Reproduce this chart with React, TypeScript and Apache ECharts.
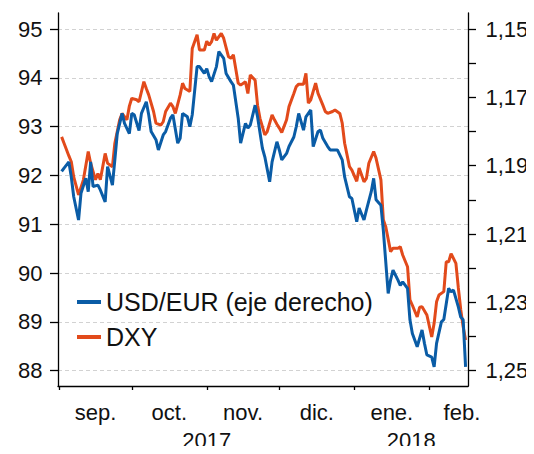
import React, { useEffect, useRef } from "react";
import * as echarts from "echarts";

// USD/EUR (right axis, inverted)
const eurDates = [
  "2017-09-02","2017-09-03","2017-09-05","2017-09-06","2017-09-07","2017-09-09","2017-09-10","2017-09-12","2017-09-13","2017-09-14",
  "2017-09-15","2017-09-17","2017-09-18","2017-09-20","2017-09-21","2017-09-23","2017-09-24","2017-09-25","2017-09-27","2017-09-28",
  "2017-09-30","2017-10-01","2017-10-02","2017-10-04","2017-10-05","2017-10-07","2017-10-08","2017-10-09","2017-10-11","2017-10-12",
  "2017-10-14","2017-10-15","2017-10-17","2017-10-18","2017-10-20","2017-10-21","2017-10-22","2017-10-24","2017-10-25","2017-10-26",
  "2017-10-28","2017-10-29","2017-10-31","2017-11-01","2017-11-02","2017-11-03","2017-11-05","2017-11-06","2017-11-08","2017-11-09",
  "2017-11-11","2017-11-12","2017-11-14","2017-11-15","2017-11-17","2017-11-18","2017-11-19","2017-11-21","2017-11-22","2017-11-24",
  "2017-11-25","2017-11-27","2017-11-28","2017-11-30","2017-12-01","2017-12-02","2017-12-04","2017-12-05","2017-12-07","2017-12-08",
  "2017-12-09","2017-12-11","2017-12-12","2017-12-14","2017-12-15","2017-12-17","2017-12-18","2017-12-19","2017-12-21","2017-12-22",
  "2017-12-23","2017-12-25","2017-12-27","2017-12-28","2017-12-30","2017-12-31","2018-01-02","2018-01-03","2018-01-05","2018-01-06",
  "2018-01-08","2018-01-09","2018-01-10","2018-01-12","2018-01-13","2018-01-15","2018-01-16","2018-01-17","2018-01-19","2018-01-20",
  "2018-01-21","2018-01-23","2018-01-24","2018-01-25","2018-01-27","2018-01-29","2018-01-30","2018-01-31","2018-02-02","2018-02-03",
  "2018-02-04","2018-02-06","2018-02-07","2018-02-09","2018-02-10","2018-02-11","2018-02-13","2018-02-14","2018-02-15","2018-02-16",
];
const eurValues = [
  1.1917,1.1907,1.1889,1.1933,1.1991,1.2059,1.1981,1.1937,1.1976,1.1889,
  1.1961,1.1957,1.1971,1.2006,1.1903,1.1957,1.1883,1.1806,1.1747,1.1776,
  1.1806,1.1747,1.1751,1.1797,1.1747,1.1713,1.1751,1.1800,1.1824,1.1854,
  1.1810,1.1800,1.1761,1.1751,1.1834,1.1820,1.1747,1.1757,1.1786,1.1751,
  1.1610,1.1610,1.1630,1.1616,1.1640,1.1654,1.1610,1.1566,1.1586,1.1630,
  1.1654,1.1664,1.1761,1.1834,1.1776,1.1790,1.1781,1.1723,1.1757,1.1849,
  1.1874,1.1947,1.1889,1.1830,1.1854,1.1883,1.1864,1.1844,1.1816,1.1786,
  1.1747,1.1796,1.1757,1.1737,1.1844,1.1800,1.1796,1.1820,1.1844,1.1854,
  1.1854,1.1854,1.1883,1.1933,1.1991,1.1996,1.2064,1.2024,1.2059,1.2030,
  1.1976,1.1937,1.2000,1.2016,1.2089,1.2274,1.2234,1.2206,1.2234,1.2250,
  1.2240,1.2259,1.2351,1.2391,1.2430,1.2381,1.2420,1.2454,1.2460,1.2489,
  1.2420,1.2357,1.2350,1.2259,1.2269,1.2264,1.2313,1.2343,1.2351,1.2489,
];

// DXY (left axis)
const dxyDates = [
  "2017-09-02","2017-09-03","2017-09-05","2017-09-06","2017-09-07","2017-09-09","2017-09-11","2017-09-13","2017-09-14","2017-09-16",
  "2017-09-17","2017-09-18","2017-09-20","2017-09-21","2017-09-23","2017-09-24","2017-09-26","2017-09-27","2017-09-29","2017-09-30",
  "2017-10-01","2017-10-03","2017-10-04","2017-10-06","2017-10-07","2017-10-08","2017-10-10","2017-10-11","2017-10-13","2017-10-14",
  "2017-10-15","2017-10-17","2017-10-18","2017-10-19","2017-10-21","2017-10-22","2017-10-23","2017-10-25","2017-10-26","2017-10-28",
  "2017-10-29","2017-10-31","2017-11-01","2017-11-02","2017-11-03","2017-11-04","2017-11-05","2017-11-07","2017-11-08","2017-11-10",
  "2017-11-11","2017-11-12","2017-11-14","2017-11-15","2017-11-17","2017-11-18","2017-11-19","2017-11-21","2017-11-22","2017-11-23",
  "2017-11-25","2017-11-26","2017-11-28","2017-11-29","2017-11-30","2017-12-01","2017-12-02","2017-12-04","2017-12-05","2017-12-07",
  "2017-12-08","2017-12-09","2017-12-11","2017-12-12","2017-12-13","2017-12-14","2017-12-16","2017-12-17","2017-12-19","2017-12-20",
  "2017-12-21","2017-12-23","2017-12-24","2017-12-26","2017-12-27","2017-12-28","2017-12-30","2017-12-31","2018-01-02","2018-01-03",
  "2018-01-05","2018-01-06","2018-01-07","2018-01-09","2018-01-10","2018-01-12","2018-01-13","2018-01-14","2018-01-16","2018-01-17",
  "2018-01-19","2018-01-20","2018-01-21","2018-01-23","2018-01-24","2018-01-25","2018-01-27","2018-01-28","2018-01-29","2018-01-31",
  "2018-02-02","2018-02-03","2018-02-04","2018-02-05","2018-02-07","2018-02-08","2018-02-09","2018-02-10","2018-02-12","2018-02-13",
  "2018-02-14","2018-02-15","2018-02-16",
];
const dxyValues = [
  92.79,92.66,92.40,92.28,91.97,91.60,91.91,92.49,92.25,91.91,
  92.04,91.91,92.45,92.25,92.18,92.66,93.14,93.27,93.14,93.42,
  93.58,93.55,93.51,93.92,93.78,93.65,93.31,93.07,93.03,93.10,
  93.31,93.48,93.41,93.27,93.65,93.89,93.78,93.72,94.60,94.88,
  94.57,94.57,94.75,94.67,94.74,94.91,94.77,94.91,94.81,94.43,
  94.40,94.47,93.89,93.85,93.92,93.68,94.06,93.95,93.44,93.17,
  92.83,92.90,93.24,93.14,93.05,92.97,92.88,93.14,93.41,93.68,
  93.82,93.87,93.87,94.09,93.48,93.55,93.89,93.68,93.44,93.31,
  93.27,93.31,93.34,93.27,93.07,92.66,92.18,92.11,91.88,92.15,
  91.87,91.94,92.25,92.49,92.35,91.91,91.09,90.95,90.44,90.51,
  90.51,90.54,90.37,90.13,89.45,89.34,89.10,89.30,89.31,89.14,
  88.69,88.97,89.41,89.55,89.62,90.23,90.23,90.40,90.20,89.70,
  89.25,88.90,88.63,
];

const monthStarts = ["2017-09-01","2017-10-01","2017-11-01","2017-12-01","2018-01-01","2018-02-01","2018-03-01"];
const monthLabels = ["sep.","oct.","nov.","dic.","ene.","feb."];
const yearLabels = ["2017","2018"];
const axisStart = "2017-09-01";
const axisEnd = "2018-02-17";
const leftTicks = { min: 88, max: 95, interval: 1 };
const rightTicks = { min: 1.15, max: 1.25, interval: 0.01 };

const BLUE = "#0a5ca6";
const RED = "#e24a1b";
const FONT = "Liberation Sans, Arial, sans-serif";
const TXT = "#111";

const dayIdx = (s: string) => {
  const [y, m, d] = s.split("-").map(Number);
  return (Date.UTC(y, m - 1, d) - Date.UTC(2017, 8, 1)) / 86400000;
};

export default function App() {
  const ref = useRef<HTMLDivElement>(null);
  useEffect(() => {
    if (!ref.current) return;
    const chart = echarts.init(ref.current, undefined, { renderer: "svg" });
    const xMin = dayIdx(axisStart) - 0.5;
    const xMax = dayIdx(axisEnd);
    const starts = monthStarts.map(dayIdx);
    const tickVals = starts.slice(0, 6);
    const mids = monthLabels.map((_, i) => (starts[i] + starts[i + 1]) / 2 - (i === 5 ? 0.5 : 0));
    const yearMids = [(starts[0] + starts[4]) / 2, (starts[4] + xMax) / 2];
    const monthMap: Record<string, string> = {};
    mids.forEach((m, i) => (monthMap[m.toFixed(1)] = monthLabels[i]));
    const yearMap: Record<string, string> = {};
    yearMids.forEach((m, i) => (yearMap[m.toFixed(1)] = yearLabels[i]));

    const axisLineStyle = { color: "#000", width: 1.3 };
    const labelStyle = { color: TXT, fontFamily: FONT, fontSize: 22 };

    chart.setOption({
      animation: false,
      backgroundColor: "#fff",
      textStyle: { fontFamily: FONT },
      grid: [
        { left: 58, right: 66, top: 13, bottom: 68, outerBoundsMode: "none", containLabel: false },
        { left: 58, right: 66, top: 29, bottom: 83.3, outerBoundsMode: "none", containLabel: false },
      ],
      legend: {
        orient: "vertical",
        left: 77,
        top: 289.5,
        padding: 0,
        itemGap: 10,
        itemWidth: 24,
        itemHeight: 4,
        icon: "rect",
        data: ["USD/EUR (eje derecho)", "DXY"],
        textStyle: { color: TXT, fontFamily: FONT, fontSize: 25, lineHeight: 25, padding: [0, 0, 0, 0] },
      },
      xAxis: [
        {
          gridIndex: 0, type: "value", min: xMin, max: xMax,
          axisLine: { show: true, onZero: false, lineStyle: axisLineStyle },
          axisTick: { show: true, length: 4, customValues: tickVals, lineStyle: axisLineStyle },
          axisLabel: {
            ...labelStyle, lineHeight: 22, margin: 15, customValues: mids,
            formatter: (v: number) => monthMap[v.toFixed(1)] ?? "",
          },
          splitLine: { show: false },
        },
        {
          gridIndex: 0, type: "value", min: xMin, max: xMax, position: "bottom", offset: 0,
          axisLine: { show: false, onZero: false }, axisTick: { show: false },
          axisLabel: {
            ...labelStyle, lineHeight: 20, margin: 44.5, customValues: yearMids,
            formatter: (v: number) => yearMap[v.toFixed(1)] ?? "",
          },
          splitLine: { show: false },
        },
        {
          gridIndex: 1, type: "value", min: xMin, max: xMax, show: false,
        },
      ],
      yAxis: [
        {
          gridIndex: 0, type: "value", min: 0, max: 1, position: "left",
          axisLine: { show: true, onZero: false, lineStyle: axisLineStyle },
          axisTick: { show: false }, axisLabel: { show: false }, splitLine: { show: false },
        },
        {
          gridIndex: 0, type: "value", min: 0, max: 1, position: "right",
          axisLine: { show: true, onZero: false, lineStyle: axisLineStyle },
          axisTick: { show: false }, axisLabel: { show: false }, splitLine: { show: false },
        },
        {
          gridIndex: 1, type: "value", position: "left",
          min: leftTicks.min, max: leftTicks.max, interval: leftTicks.interval,
          axisLine: { show: false, onZero: false },
          axisTick: { show: true, length: 8, lineStyle: axisLineStyle },
          axisLabel: { ...labelStyle, margin: 15.5 },
          splitLine: { show: true, lineStyle: { color: "#d2d2d2", type: [4, 3], width: 1 } },
        },
        {
          gridIndex: 1, type: "value", position: "right", inverse: true,
          min: rightTicks.min, max: rightTicks.max, interval: rightTicks.interval,
          axisLine: { show: false, onZero: false },
          axisTick: { show: true, length: 8, lineStyle: axisLineStyle },
          axisLabel: {
            ...labelStyle, margin: 17.5,
            formatter: (v: number) => {
              const k = Math.round(v * 100);
              return k % 2 === 1 ? (k / 100).toFixed(2).replace(".", ",") : "";
            },
          },
          splitLine: { show: false },
        },
      ],
      series: [
        {
          name: "USD/EUR (eje derecho)", type: "line", xAxisIndex: 2, yAxisIndex: 3,
          data: eurDates.map((d, i) => [dayIdx(d), eurValues[i]]),
          showSymbol: false, symbol: "none", color: BLUE,
          lineStyle: { color: BLUE, width: 3 }, z: 3,
        },
        {
          name: "DXY", type: "line", xAxisIndex: 2, yAxisIndex: 2,
          data: dxyDates.map((d, i) => [dayIdx(d), dxyValues[i]]),
          showSymbol: false, symbol: "none", color: RED,
          lineStyle: { color: RED, width: 3 }, z: 2,
        },
      ],
    });
    return () => chart.dispose();
  }, []);
  return <div ref={ref} style={{ width: 534, height: 454, margin: -8 }} />;
}
